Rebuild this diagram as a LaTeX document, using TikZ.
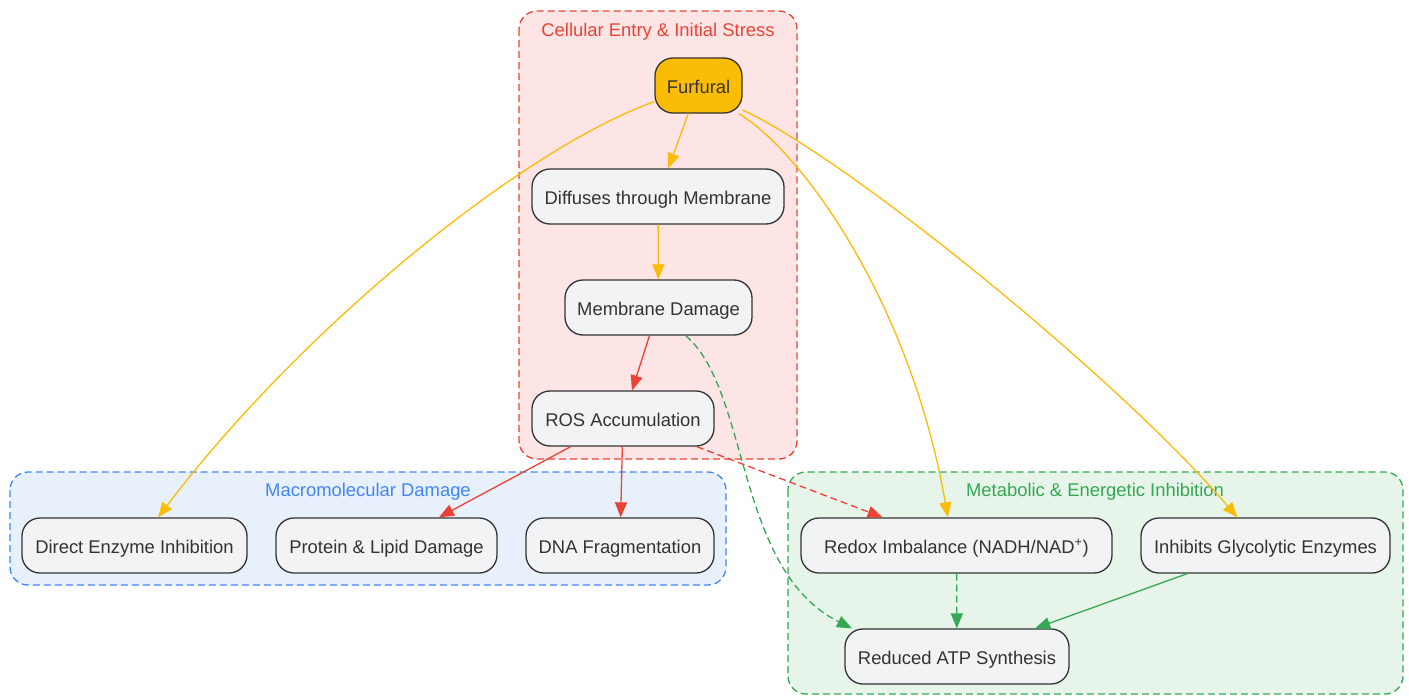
\documentclass[tikz,border=0pt]{standalone}
\usepackage{fontspec}
\setmainfont{Liberation Sans}
\usetikzlibrary{arrows.meta}

\definecolor{gyellow}{HTML}{FBBC05}
\definecolor{gred}{HTML}{EA4335}
\definecolor{ggreen}{HTML}{34A853}
\definecolor{gblue}{HTML}{4285F4}
\definecolor{redbg}{RGB}{253,228,229}
\definecolor{bluebg}{RGB}{232,240,251}
\definecolor{greenbg}{RGB}{231,244,234}
\definecolor{nodebg}{RGB}{241,243,244}
\definecolor{inkgrey}{RGB}{51,51,51}

\begin{document}
\begin{tikzpicture}[x=1pt, y=-1pt,
    every node/.style={font=\fontsize{18.4}{22}\selectfont, text=inkgrey,
        text height=15pt, text depth=0pt},
    proc/.style={draw=inkgrey, line width=1.3pt, fill=nodebg, rounded corners=18pt,
        minimum height=55pt, inner sep=0pt},
    longdash/.style={dash pattern=on 7pt off 4pt},
    group/.style={longdash, line width=1.3pt, rounded corners=18pt},
    flow/.style={line width=1.3pt, -{Triangle[length=15pt, width=12pt]}}
    ]
    \useasboundingbox (0, 0) rectangle (1409, 696);

    % Clusters
    \filldraw [group, draw=gred, fill=redbg] (519, 11) rectangle (797, 459);
    \filldraw [group, draw=gblue, fill=bluebg] (10, 472) rectangle (726, 585);
    \filldraw [group, draw=ggreen, fill=greenbg] (788, 472) rectangle (1403, 694);

    \node (entrylbl) at (658, 29) [text=gred] {Cellular Entry \& Initial Stress};
    \node (macrolbl) at (368, 489) [text=gblue] {Macromolecular Damage};
    \node (metablbl) at (1095, 489) [text=ggreen] {Metabolic \& Energetic Inhibition};

    % Entry and stress
    \node (furfural) at (698.5, 85.5) [proc, fill=gyellow, minimum width=87pt] {Furfural};
    \node (diffuse) at (658, 196.5) [proc, minimum width=252pt] {Diffuses through Membrane};
    \node (membrane) at (658.5, 307.5) [proc, minimum width=187pt] {Membrane Damage};
    \node (ros) at (623, 418.5) [proc, minimum width=182pt] {ROS Accumulation};

    % Macromolecular damage
    \node (enzyme) at (134.5, 545.5) [proc, minimum width=225pt] {Direct Enzyme Inhibition};
    \node (protein) at (386.5, 545.5) [proc, minimum width=221pt] {Protein \& Lipid Damage};
    \node (dna) at (620, 545.5) [proc, minimum width=188pt] {DNA Fragmentation};

    % Metabolic inhibition
    \node (redox) at (956.5, 545.5) [proc, minimum width=311pt] {Redox Imbalance (NADH/NAD\textsuperscript{+})};
    \node (glyco) at (1265.5, 545.5) [proc, minimum width=249pt] {Inhibits Glycolytic Enzymes};
    \node (atp) at (957, 656.5) [proc, minimum width=224pt] {Reduced ATP Synthesis};

    % Furfural arrows
    \draw [flow, gyellow] (furfural) -- (diffuse);
    \draw [flow, gyellow] (diffuse) -- (membrane);
    \draw [flow, gyellow] (furfural.200) .. controls (520, 150) and (300, 330) .. (enzyme.50);
    \draw [flow, gyellow] (furfural.325) .. controls (800, 150) and (910, 300) .. (redox.107);
    \draw [flow, gyellow] (furfural.331) .. controls (850, 160) and (1120, 380) .. (glyco.135);

    % Stress arrows
    \draw [flow, gred] (membrane) -- (ros);
    \draw [flow, gred] (ros) -- (protein);
    \draw [flow, gred] (ros) -- (dna);
    \draw [flow, gred, longdash] (ros) -- (redox);

    % Energy arrows
    \draw [flow, ggreen, longdash] (membrane.314) .. controls (750, 390) and (735, 570) .. (atp.165);
    \draw [flow, ggreen, longdash] (redox) -- (atp);
    \draw [flow, ggreen] (glyco) -- (atp);

\end{tikzpicture}
\end{document}
